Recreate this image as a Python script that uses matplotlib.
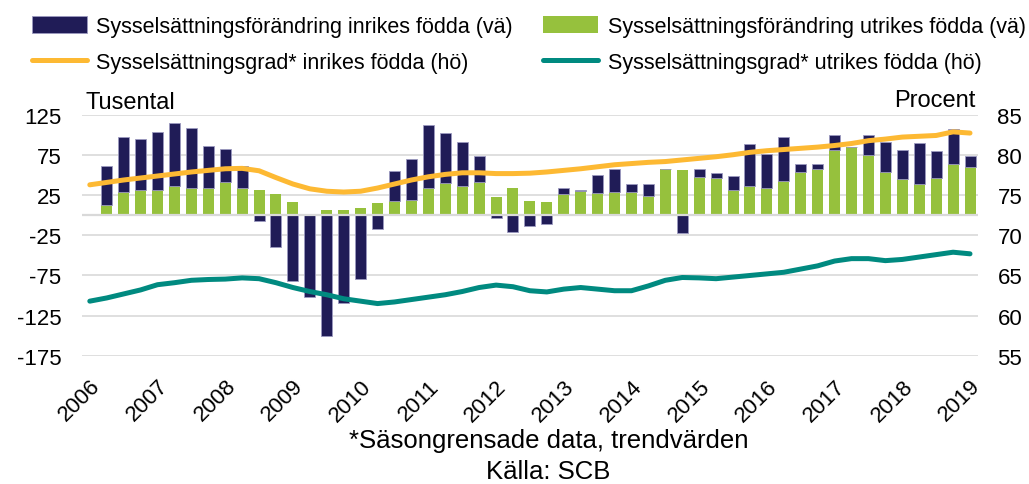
import matplotlib.pyplot as plt
import numpy as np

plt.rcParams["font.family"] = ["Liberation Sans", "DejaVu Sans"]
plt.rcParams["axes.unicode_minus"] = False

# Quarters 2006K1 .. 2019K1
quarters = [f"{y}K{q}" for y in range(2006, 2020) for q in range(1, 5)][:53]
year_labels = [str(y) for y in range(2006, 2020)]

# Sysselsättningsförändring, tusental (vänster axel) - first quarter has no bar
inrikes_change = [np.nan,
    48, 69, 64.5, 73, 78, 74.5, 52, 42, 28, -7, -39, -81.5, -101.5, -151, -109, -79,
    -17, 37, 51, 79, 62, 55.5, 32.5, -3.5, -20.5, -13, -11, 8, 1.5, 22.5, 28.5, 9.5,
    15, 0, -22.5, 9.5, 7, 16.5, 52, 43, 55, 10.5, 5.5, 18, 0, 25, 37, 36.5, 51, 33,
    43.5, 14]
utrikes_change = [np.nan,
    13, 29, 31, 31, 37, 34, 34, 41, 34, 31, 26, 16, 0, 7, 7, 9, 15, 18, 19, 34, 40,
    36, 42, 23, 34, 18, 17, 26, 30, 28, 29, 29, 24, 58, 57, 48, 46, 32, 37, 34, 43,
    54, 58, 82, 85, 75, 54, 45, 39, 47, 64, 60]

# Sysselsättningsgrad, procent (höger axel)
inrikes_rate = [
    76.3, 76.6, 76.9, 77.15, 77.4, 77.65, 77.9, 78.1, 78.3, 78.35, 78.05, 77.2, 76.4,
    75.8, 75.5, 75.4, 75.5, 75.9, 76.4, 76.9, 77.3, 77.6, 77.8, 77.8, 77.7, 77.7,
    77.75, 77.9, 78.1, 78.3, 78.55, 78.8, 78.95, 79.1, 79.2, 79.4, 79.6, 79.8, 80.05,
    80.35, 80.55, 80.7, 80.85, 81.0, 81.2, 81.45, 81.8, 82.0, 82.25, 82.35, 82.45,
    82.9, 82.75]
utrikes_rate = [
    61.8, 62.2, 62.7, 63.2, 63.85, 64.1, 64.4, 64.5, 64.55, 64.7, 64.6, 64.1, 63.5,
    63.0, 62.6, 62.1, 61.8, 61.5, 61.7, 62.0, 62.3, 62.6, 63.0, 63.5, 63.8, 63.6,
    63.1, 62.95, 63.3, 63.5, 63.3, 63.1, 63.1, 63.7, 64.4, 64.75, 64.7, 64.6, 64.8,
    65.0, 65.2, 65.4, 65.8, 66.2, 66.8, 67.1, 67.1, 66.85, 67.0, 67.3, 67.6, 67.9,
    67.7]

navy = "#201C57"
green = "#96C13D"
orange = "#FDB933"
teal = "#008A80"
grid = "#D9D9D9"

x = np.arange(len(quarters))
inr = np.array(inrikes_change, dtype=float)
utr = np.array(utrikes_change, dtype=float)
dark_bottom = np.where(inr >= 0, utr, 0)

fig = plt.figure(figsize=(10.29, 4.85), dpi=100)
ax = fig.add_axes([0.0797, 0.2645, 0.8707, 0.4963])
ax2 = ax.twinx()

ax.bar(x, utr, width=0.65, color=green, label="Sysselsättningsförändring utrikes födda (vä)")
ax.bar(x, inr, bottom=dark_bottom, width=0.65, color=navy, edgecolor="#9C9AC0",
       linewidth=0.6, label="Sysselsättningsförändring inrikes födda (vä)")
ax.axhline(0, color=grid, lw=1.6, zorder=3)

ax2.plot(x, inrikes_rate, color=orange, lw=3.6, solid_capstyle="round",
         label="Sysselsättningsgrad* inrikes födda (hö)")
ax2.plot(x, utrikes_rate, color=teal, lw=3.6, solid_capstyle="round",
         label="Sysselsättningsgrad* utrikes födda (hö)")

ax.set_xlim(-0.46, 52.47)
ax.set_ylim(-175, 125)
ax2.set_ylim(55, 85)
ax.set_yticks(np.arange(-175, 126, 50))
ax2.set_yticks(np.arange(55, 86, 5))
ax.yaxis.grid(True, color=grid, lw=1.2)
ax.set_axisbelow(True)

ax.set_xticks(x[::4])
ax.set_xticklabels(year_labels, rotation=45, ha="right", va="top",
                   rotation_mode="anchor")
for a in (ax, ax2):
    for s in a.spines.values():
        s.set_visible(False)
ax.tick_params(axis="x", length=0, pad=14, labelsize=16)
ax.tick_params(axis="y", length=0, pad=15, labelsize=16)
ax2.tick_params(axis="y", length=0, pad=14, labelsize=16)

fig.text(85 / 1029, 1 - 109 / 485, "Tusental", fontsize=17, va="baseline", ha="left")
fig.text(975 / 1029, 1 - 107 / 485, "Procent", fontsize=17, va="baseline", ha="right")

h1, l1 = ax.get_legend_handles_labels()
h2, l2 = ax2.get_legend_handles_labels()
handles = [h1[1], h2[0], h1[0], h2[1]]
labels = [l1[1], l2[0], l1[0], l2[1]]
fig.legend(handles, labels, ncol=2, loc="upper left", bbox_to_anchor=(0.012, 1.005),
           frameon=False, fontsize=15.5, handlelength=2.55, handleheight=0.8,
           handletextpad=0.45, columnspacing=1.4, labelspacing=0.68)

fig.text(0.533, 1 - 441 / 485, "*Säsongrensade data, trendvärden", fontsize=18.5,
         ha="center", va="center")
fig.text(0.533, 1 - 472 / 485, "Källa: SCB", fontsize=18.5, ha="center", va="center")

fig.savefig("out.png", dpi=100)
